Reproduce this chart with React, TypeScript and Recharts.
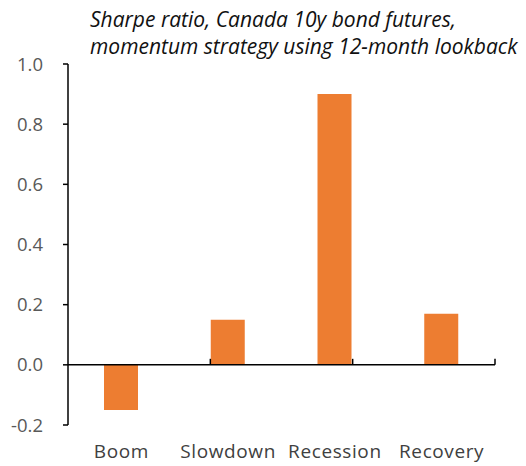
import React from 'react';
import { BarChart, Bar, XAxis, YAxis, ReferenceLine } from 'recharts';

const phases = ['Boom', 'Slowdown', 'Recession', 'Recovery'];
const sharpe = [-0.15, 0.15, 0.9, 0.17];
const yTicks = [-0.2, 0, 0.2, 0.4, 0.6, 0.8, 1.0];
const boundaries = [1, 2, 3, 4];

const data = phases.map((name, i) => ({ name, sharpe: sharpe[i] }));

const FONT = '"Open Sans", Lato, sans-serif';

export default function App() {
  return (
    <div style={{ position: 'absolute', left: 0, top: 0, width: 526, height: 466, background: '#fff', fontFamily: FONT }}>
      <div
        style={{
          position: 'absolute',
          left: 90,
          top: 6,
          fontStyle: 'italic',
          fontSize: 21,
          lineHeight: '27px',
          color: '#111',
          whiteSpace: 'nowrap',
        }}
      >
        Sharpe ratio, Canada 10y bond futures,
        <br />
        momentum strategy using 12-month lookback
      </div>
      <BarChart width={526} height={466} data={data} margin={{ top: 64, right: 31, bottom: 0, left: 8 }}>
        <XAxis
          xAxisId="cat"
          dataKey="name"
          axisLine={false}
          tickLine={false}
          height={41}
          tickMargin={14}
          tick={{ fill: '#404040', fontSize: 19, fontFamily: FONT, letterSpacing: 0.6 }}
        />
        <XAxis xAxisId="num" type="number" domain={[0, 4]} hide />
        <YAxis
          domain={[-0.2, 1.0]}
          ticks={yTicks}
          interval={0}
          width={60}
          axisLine={{ stroke: '#000', strokeWidth: 1.5 }}
          tickLine={{ stroke: '#000', strokeWidth: 1.5 }}
          tickSize={5}
          tickMargin={20}
          tickFormatter={(v: number) => v.toFixed(1)}
          tick={{ fill: '#595959', fontSize: 18.5, fontFamily: FONT }}
        />
        <Bar xAxisId="cat" dataKey="sharpe" fill="#ED7D31" barSize={34} isAnimationActive={false} />
        <ReferenceLine xAxisId="cat" y={0} stroke="#000" strokeWidth={1.5} />
        {boundaries.map((b) => (
          <ReferenceLine
            key={b}
            xAxisId="num"
            segment={[
              { x: b, y: 0 },
              { x: b, y: 0.02 },
            ]}
            stroke="#000"
            strokeWidth={1.5}
          />
        ))}
      </BarChart>
    </div>
  );
}
